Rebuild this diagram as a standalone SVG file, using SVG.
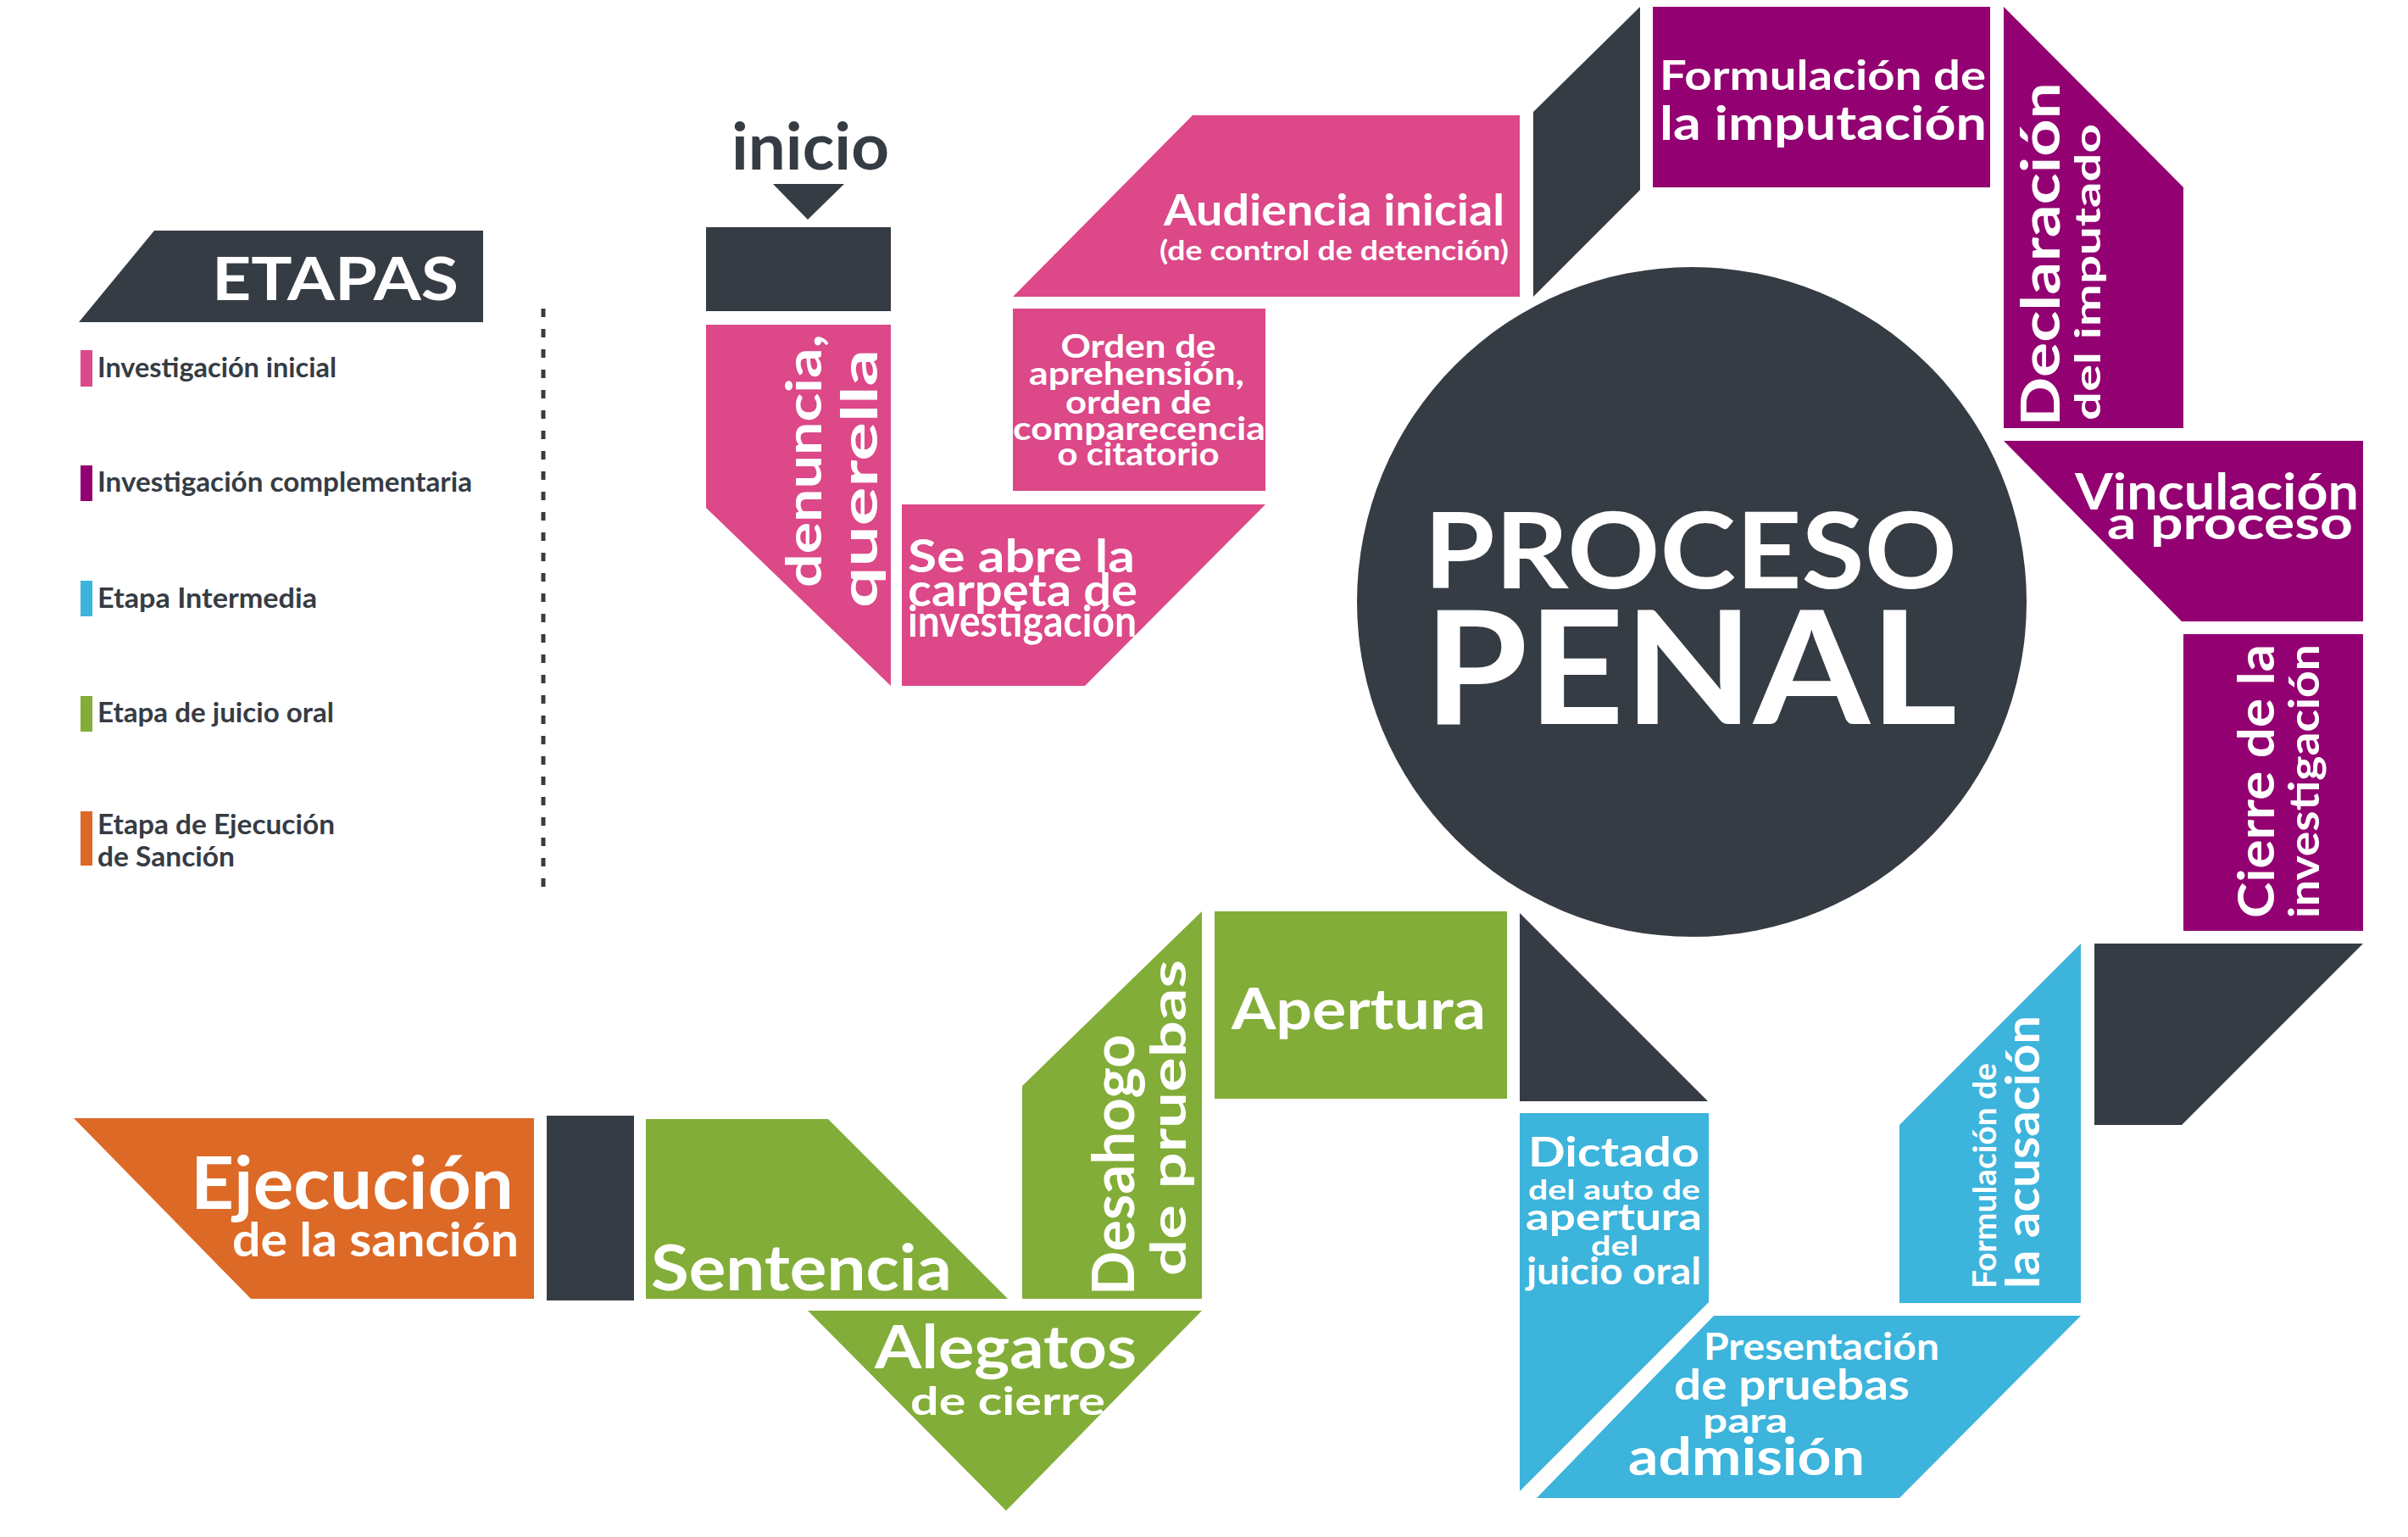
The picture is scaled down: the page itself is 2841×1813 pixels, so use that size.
<svg xmlns="http://www.w3.org/2000/svg" width="2841" height="1813" viewBox="0 0 2841 1813">
<style>
text{font-family:Lato,"Liberation Sans","DejaVu Sans",sans-serif;font-weight:700}
.w{fill:#ffffff}
.dk{fill:#363c44}
.pk{fill:#dc4888}
.pu{fill:#930071}
.bl{fill:#3cb4dc}
.gr{fill:#82ad38}
.or{fill:#dd6926}
.lg{font-size:32px}
</style>
<rect width="2841" height="1813" fill="#ffffff"/>

<g id="legend">
  <polygon class="dk" points="182,272 570,272 570,380 93,380"/>
  <text class="w" x="250" y="354" font-size="70" textLength="291" lengthAdjust="spacingAndGlyphs">ETAPAS</text>
  <rect class="pk" x="95" y="413" width="14" height="43"/>
  <text class="dk lg" x="115" y="445" textLength="282" lengthAdjust="spacingAndGlyphs">Investigación inicial</text>
  <rect class="pu" x="95" y="549" width="14" height="42"/>
  <text class="dk lg" x="115" y="580" textLength="442" lengthAdjust="spacingAndGlyphs">Investigación complementaria</text>
  <rect class="bl" x="95" y="685" width="14" height="42"/>
  <text class="dk lg" x="115" y="717" textLength="259" lengthAdjust="spacingAndGlyphs">Etapa Intermedia</text>
  <rect class="gr" x="95" y="821" width="14" height="42"/>
  <text class="dk lg" x="115" y="852" textLength="279" lengthAdjust="spacingAndGlyphs">Etapa de juicio oral</text>
  <rect class="or" x="95" y="957" width="14" height="64"/>
  <text class="dk lg" x="115" y="984" textLength="280" lengthAdjust="spacingAndGlyphs">Etapa de Ejecución</text>
  <text class="dk lg" x="115" y="1022" textLength="162" lengthAdjust="spacingAndGlyphs">de Sanción</text>
  <line x1="641" y1="364" x2="641" y2="1047" stroke="#363c44" stroke-width="5" stroke-dasharray="10 14"/>
</g>

<g id="connectors">
  <polygon class="dk" points="912,217 996,217 953,259"/>
</g>

<g id="inicio">
  <text class="dk" x="863" y="200" font-size="76" textLength="186" lengthAdjust="spacingAndGlyphs">inicio</text>
  <rect class="dk" x="833" y="268" width="218" height="99"/>
</g>

<g id="denuncia">
  <polygon class="pk" points="833,383 1051,383 1051,809 833,599"/>
  <text class="w" transform="translate(969,693) rotate(-90)" font-size="58" textLength="299" lengthAdjust="spacingAndGlyphs">denuncia,</text>
  <text class="w" transform="translate(1035,717) rotate(-90)" font-size="60" textLength="305" lengthAdjust="spacingAndGlyphs">querella</text>
</g>

<g id="se-abre">
  <polygon class="pk" points="1064,595 1493,595 1280,809 1064,809"/>
  <text class="w" x="1071" y="675" font-size="54" textLength="268" lengthAdjust="spacingAndGlyphs">Se abre la</text>
  <text class="w" x="1071" y="715" font-size="54" textLength="271" lengthAdjust="spacingAndGlyphs">carpeta de</text>
  <text class="w" x="1071" y="751" font-size="52" textLength="270" lengthAdjust="spacingAndGlyphs">investigación</text>
</g>

<g id="orden">
  <rect class="pk" x="1195" y="364" width="298" height="215"/>
  <g class="w" font-size="38" text-anchor="middle">
    <text x="1343" y="422" textLength="183" lengthAdjust="spacingAndGlyphs">Orden de</text>
    <text x="1341" y="454" textLength="254" lengthAdjust="spacingAndGlyphs">aprehensión,</text>
    <text x="1343" y="488" textLength="172" lengthAdjust="spacingAndGlyphs">orden de</text>
    <text x="1344" y="519" textLength="298" lengthAdjust="spacingAndGlyphs">comparecencia</text>
    <text x="1343" y="549" textLength="191" lengthAdjust="spacingAndGlyphs">o citatorio</text>
  </g>
</g>

<g id="audiencia">
  <polygon class="pk" points="1407,136 1793,136 1793,350 1195,350"/>
  <text class="w" x="1373" y="266" font-size="52" textLength="402" lengthAdjust="spacingAndGlyphs">Audiencia inicial</text>
  <text class="w" x="1368" y="307" font-size="33" textLength="412" lengthAdjust="spacingAndGlyphs">(de control de detención)</text>
</g>

<g id="paso-oscuro-1">
  <polygon class="dk" points="1809,132 1935,8 1935,224 1809,350"/>
</g>

<g id="formulacion-imputacion">
  <rect class="pu" x="1950" y="8" width="398" height="213"/>
  <text class="w" x="1958" y="106" font-size="48" textLength="385" lengthAdjust="spacingAndGlyphs">Formulación de</text>
  <text class="w" x="1958" y="165" font-size="56" textLength="386" lengthAdjust="spacingAndGlyphs">la imputación</text>
</g>

<g id="declaracion">
  <polygon class="pu" points="2364,8 2576,221 2576,505 2364,505"/>
  <text class="w" transform="translate(2430,503) rotate(-90)" font-size="63" textLength="406" lengthAdjust="spacingAndGlyphs">Declaración</text>
  <text class="w" transform="translate(2478,496) rotate(-90)" font-size="42" textLength="350" lengthAdjust="spacingAndGlyphs">del imputado</text>
</g>

<g id="vinculacion">
  <polygon class="pu" points="2364,520 2788,520 2788,733 2574,733"/>
  <text class="w" x="2448" y="601" font-size="60" textLength="335" lengthAdjust="spacingAndGlyphs">Vinculación</text>
  <text class="w" x="2486" y="636" font-size="54" textLength="290" lengthAdjust="spacingAndGlyphs">a proceso</text>
</g>

<g id="cierre">
  <rect class="pu" x="2576" y="748" width="212" height="350"/>
  <text class="w" transform="translate(2683,1083) rotate(-90)" font-size="60" textLength="323" lengthAdjust="spacingAndGlyphs">Cierre de la</text>
  <text class="w" transform="translate(2736,1083) rotate(-90)" font-size="50" textLength="323" lengthAdjust="spacingAndGlyphs">investigación</text>
</g>

<g id="paso-oscuro-2">
  <polygon class="dk" points="2471,1113 2788,1113 2574,1327 2471,1327"/>
</g>

<g id="formulacion-acusacion">
  <polygon class="bl" points="2241,1327 2455,1113 2455,1537 2241,1537"/>
  <text class="w" transform="translate(2355,1520) rotate(-90)" font-size="38" textLength="266" lengthAdjust="spacingAndGlyphs">Formulación de</text>
  <text class="w" transform="translate(2406,1520) rotate(-90)" font-size="55" textLength="322" lengthAdjust="spacingAndGlyphs">la acusación</text>
</g>

<g id="presentacion">
  <polygon class="bl" points="2022,1552 2455,1552 2241,1767 1813,1767"/>
  <text class="w" x="2010" y="1604" font-size="43" textLength="278" lengthAdjust="spacingAndGlyphs">Presentación</text>
  <text class="w" x="1975" y="1651" font-size="50" textLength="278" lengthAdjust="spacingAndGlyphs">de pruebas</text>
  <text class="w" x="2009" y="1690" font-size="40" textLength="100" lengthAdjust="spacingAndGlyphs">para</text>
  <text class="w" x="1921" y="1740" font-size="62" textLength="279" lengthAdjust="spacingAndGlyphs">admisión</text>
</g>

<g id="dictado">
  <polygon class="bl" points="1793,1313 2016,1313 2016,1536 1793,1759"/>
  <text class="w" x="1803" y="1376" font-size="48" textLength="202" lengthAdjust="spacingAndGlyphs">Dictado</text>
  <text class="w" x="1803" y="1415" font-size="33" textLength="203" lengthAdjust="spacingAndGlyphs">del auto de</text>
  <text class="w" x="1800" y="1451" font-size="44" textLength="208" lengthAdjust="spacingAndGlyphs">apertura</text>
  <text class="w" x="1877" y="1481" font-size="32" textLength="56" lengthAdjust="spacingAndGlyphs">del</text>
  <text class="w" x="1801" y="1515" font-size="44" textLength="206" lengthAdjust="spacingAndGlyphs">juicio oral</text>
</g>

<g id="paso-oscuro-3">
  <polygon class="dk" points="1793,1077 2015,1299 1793,1299"/>
</g>

<g id="apertura">
  <rect class="gr" x="1433" y="1075" width="345" height="221"/>
  <text class="w" x="1453" y="1214" font-size="67" textLength="300" lengthAdjust="spacingAndGlyphs">Apertura</text>
</g>

<g id="desahogo">
  <polygon class="gr" points="1206,1281 1418,1075 1418,1532 1206,1532"/>
  <text class="w" transform="translate(1338,1528) rotate(-90)" font-size="69" textLength="308" lengthAdjust="spacingAndGlyphs">Desahogo</text>
  <text class="w" transform="translate(1399,1505) rotate(-90)" font-size="58" textLength="373" lengthAdjust="spacingAndGlyphs">de pruebas</text>
</g>

<g id="alegatos">
  <polygon class="gr" points="953,1546 1418,1546 1187,1782"/>
  <text class="w" x="1032" y="1614" font-size="71" textLength="309" lengthAdjust="spacingAndGlyphs">Alegatos</text>
  <text class="w" x="1074" y="1669" font-size="46" textLength="230" lengthAdjust="spacingAndGlyphs">de cierre</text>
</g>

<g id="sentencia">
  <polygon class="gr" points="762,1320 977,1320 1189,1532 762,1532"/>
  <text class="w" x="768" y="1522" font-size="74" textLength="355" lengthAdjust="spacingAndGlyphs">Sentencia</text>
</g>

<g id="paso-oscuro-4">
  <rect class="dk" x="645" y="1316" width="103" height="218"/>
</g>

<g id="ejecucion">
  <polygon class="or" points="87,1319 630,1319 630,1532 296,1532"/>
  <text class="w" x="225" y="1426" font-size="86" textLength="381" lengthAdjust="spacingAndGlyphs">Ejecución</text>
  <text class="w" x="274" y="1482" font-size="56" textLength="338" lengthAdjust="spacingAndGlyphs">de la sanción</text>
</g>

<g id="proceso-penal">
  <circle class="dk" cx="1996" cy="710" r="395"/>
  <text class="w" x="1680" y="694" font-size="124" textLength="629" lengthAdjust="spacingAndGlyphs">PROCESO</text>
  <text class="w" x="1680" y="854" font-size="185" textLength="629" lengthAdjust="spacingAndGlyphs">PENAL</text>
</g>
</svg>
